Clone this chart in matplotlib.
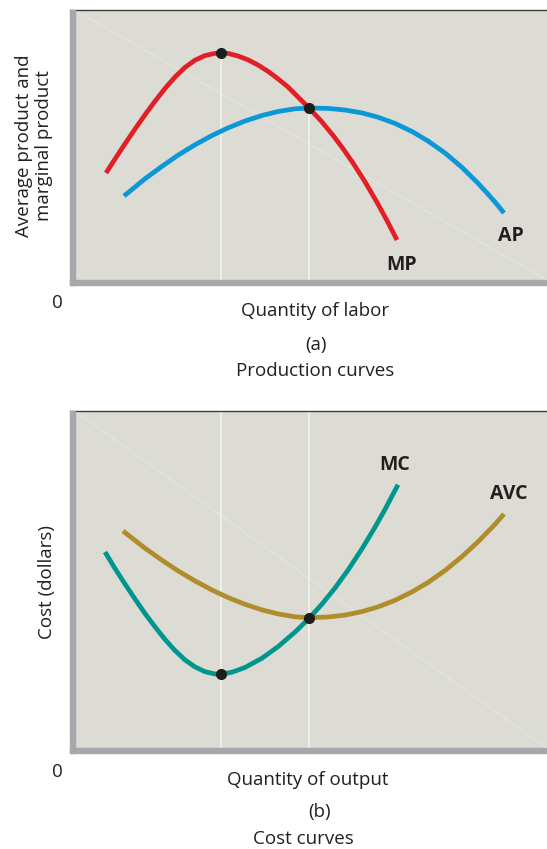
from matplotlib import pyplot as plt
from matplotlib.patches import Rectangle
from matplotlib.lines import Line2D

plt.rcParams['font.family'] = ['Open Sans', 'DejaVu Sans']

# Panel (a): production curves (units)
mp_x = [31, 40, 50, 60, 70, 80, 90, 100, 110, 120, 130, 140, 146, 153, 163, 173, 183, 193,
        203, 213, 223, 234, 246, 258, 268, 278, 290, 302, 312, 322]
mp_y = [107, 121, 136.2, 151, 165.2, 178.8, 191.5, 203, 212.6, 219.8, 224.4, 226.7, 227,
        226.6, 224, 220.2, 215, 208.7, 201.2, 193, 183, 172, 159.2, 144.7, 131.4, 117, 98.2,
        77.7, 59.4, 40]
ap_x = [49, 70, 87, 103, 120, 137, 153, 170, 187, 203, 220, 234, 253, 270, 287, 303, 320,
        337, 353, 370, 387, 403, 412, 420, 429]
ap_y = [84, 101.2, 113.7, 124.8, 135.2, 144.5, 152.1, 159, 164.5, 168.5, 171.2, 172, 171.6,
        170, 167.1, 162.8, 156.6, 148.5, 139, 127, 112.6, 96.8, 87, 78, 67]
prod_pts_x = [146, 234]
prod_pts_y = [227, 172]

# Panel (b): cost curves
mc_x = [30, 40, 50, 60, 70, 80, 90, 100, 110, 120, 130, 140, 146, 157, 170, 187, 203, 220,
        234, 247, 260, 273, 287, 300, 310, 323]
mc_y = [196, 179.5, 164, 149, 134.5, 121.2, 108.6, 97.5, 88.1, 81.1, 76.3, 74, 73.8, 75.8,
        80.5, 89.8, 101.3, 115.9, 129.6, 143.9, 160, 177.9, 199.2, 220.8, 238.6, 263.3]
avc_x = [48, 70, 87, 103, 120, 137, 153, 170, 187, 203, 220, 234, 253, 270, 287, 303, 320,
         337, 353, 370, 387, 403, 420, 429]
avc_y = [217, 199.8, 187.8, 177.2, 167.1, 158, 150.5, 143.7, 138.1, 134.1, 131.2, 130.3, 131,
         132.9, 136.4, 141.1, 147.7, 156.1, 165.5, 177.5, 191.4, 206.2, 223.7, 234]
cost_pts_x = [146, 234]
cost_pts_y = [73.8, 130]

W, H = 547, 849
bg = '#dcdbd4'
axis_gray = '#a7a8ab'
ink = '#231f20'

fig = plt.figure(figsize=(W / 100, H / 100), dpi=100)


def fx(px):
    return px / W


def fy(py):
    return 1 - py / H


def panel(top, bottom):
    ax = fig.add_axes([fx(75), fy(bottom), fx(W) - fx(75), fy(top) - fy(bottom)])
    ax.set_facecolor(bg)
    ax.set_xlim(0, 472)
    ax.set_ylim(0, bottom - top)
    for s in ax.spines.values():
        s.set_visible(False)
    ax.set_xticks([])
    ax.set_yticks([])
    # faint diagonal
    ax.plot([0, 472], [bottom - top, 0], color='white', lw=0.6, alpha=0.35)
    # gray axes bars and dark top rule
    fig.patches.append(Rectangle((fx(70), fy(bottom + 5)), fx(5), fy(top) - fy(bottom + 5),
                                 transform=fig.transFigure, color=axis_gray, zorder=5))
    fig.patches.append(Rectangle((fx(70), fy(bottom + 5)), 1 - fx(70), 5 / H,
                                 transform=fig.transFigure, color=axis_gray, zorder=5))
    fig.lines.append(Line2D([fx(70), 1], [fy(top - 0.5), fy(top - 0.5)],
                            transform=fig.transFigure, color='#3c3c3c', lw=1.0))
    return ax


line_kw = dict(lw=3.4, solid_capstyle='butt', solid_joinstyle='round')
lab_kw = dict(ha='center', va='center', fontsize=14, fontweight='bold', color=ink)

# ---- panel (a)
ax1 = panel(10, 280)
for x, y in zip(prod_pts_x, prod_pts_y):
    ax1.plot([x, x], [0, y], color='#f4f4f0', lw=1.1, zorder=1)
ax1.plot(ap_x, ap_y, color='#0b97d8', zorder=2, **line_kw)
ax1.plot(mp_x, mp_y, color='#e21f26', zorder=3, **line_kw)
ax1.plot(prod_pts_x, prod_pts_y, 'o', color='#1d1d1b', ms=7, zorder=4)
ax1.text(327, 15, 'MP', **lab_kw)
ax1.text(436, 44, 'AP', **lab_kw)

# ---- panel (b)
ax2 = panel(411, 748)
for x in cost_pts_x:
    ax2.plot([x, x], [0, 337], color='#f4f4f0', lw=1.1, zorder=1)
ax2.plot(avc_x, avc_y, color='#b08d2a', zorder=2, **line_kw)
ax2.plot(mc_x, mc_y, color='#00968e', zorder=3, **line_kw)
ax2.plot(cost_pts_x, cost_pts_y, 'o', color='#1d1d1b', ms=7, zorder=4)
ax2.text(320, 283, 'MC', **lab_kw)
ax2.text(434, 254, 'AVC', **lab_kw)

# ---- text outside panels
txt = dict(ha='center', va='center', fontsize=13.5, color=ink, transform=fig.transFigure)
fig.text(fx(57), fy(303), '0', **txt)
fig.text(fx(315), fy(311), 'Quantity of labor', **txt)
fig.text(fx(316), fy(345), '(a)', **txt)
fig.text(fx(315), fy(371), 'Production curves', **txt)
fig.text(fx(34), fy(146), 'Average product and\nmarginal product', rotation=90,
         linespacing=1.1, **txt)

fig.text(fx(57), fy(772), '0', **txt)
fig.text(fx(308), fy(780), 'Quantity of output', **txt)
fig.text(fx(320), fy(812), '(b)', **txt)
fig.text(fx(303), fy(839), 'Cost curves', **txt)
fig.text(fx(47), fy(582), 'Cost (dollars)', rotation=90, **txt)

fig.savefig('out.png', dpi=100, facecolor='white')
